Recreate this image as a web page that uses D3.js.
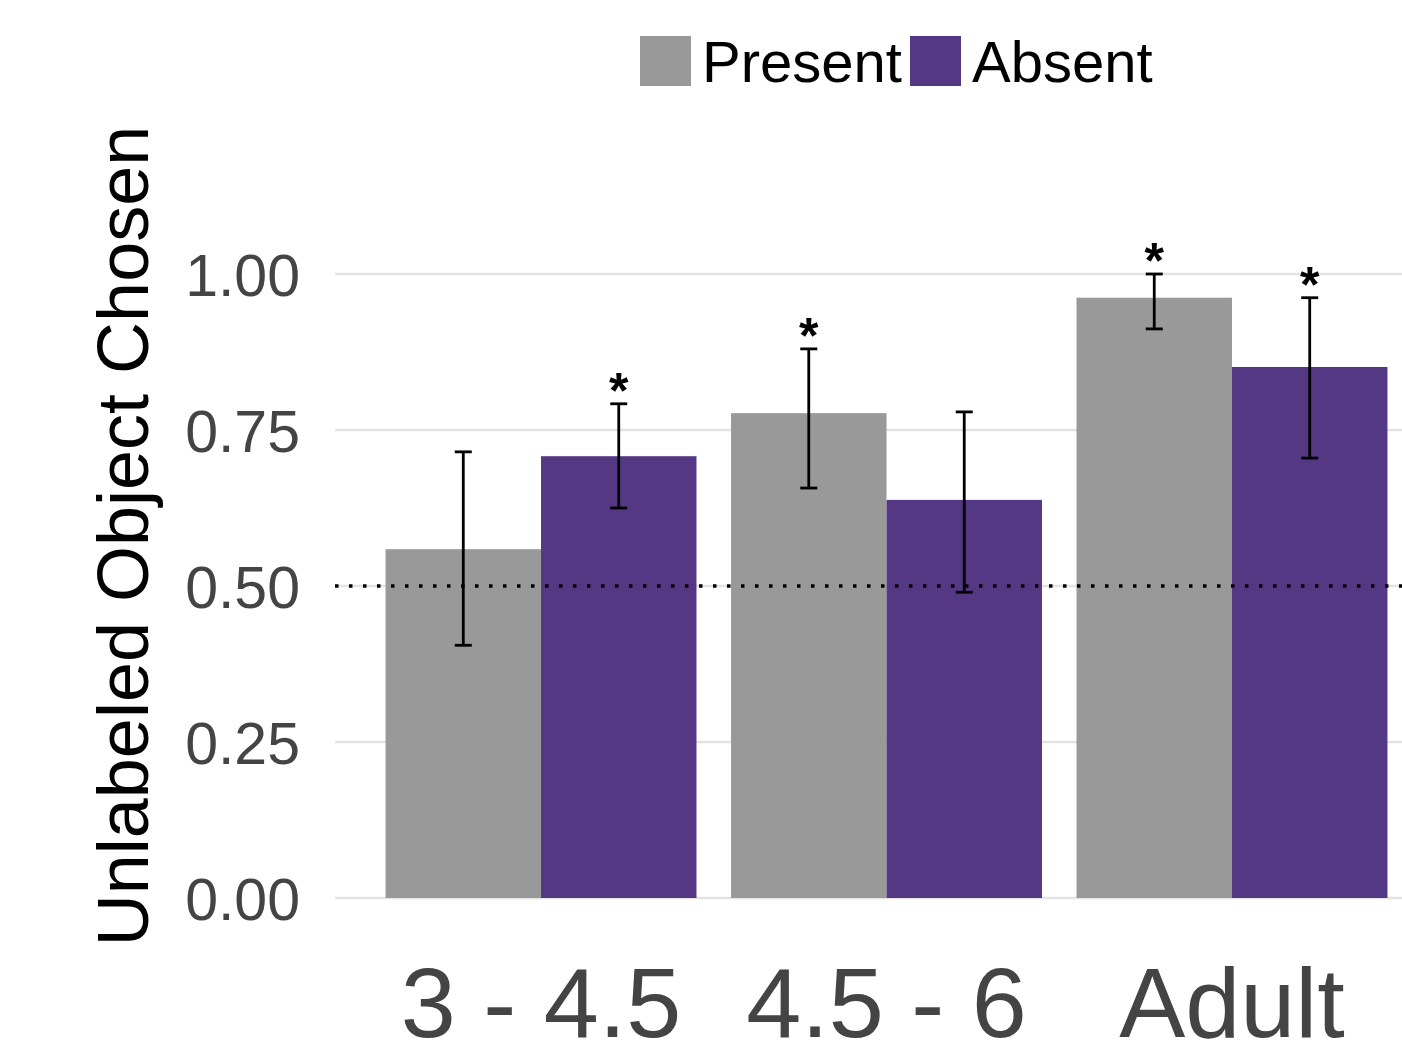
<!DOCTYPE html>
<html lang="en">
<head>
  <meta charset="UTF-8">
  <title>Unlabeled object chosen</title>
  <script src="https://d3js.org/d3.v7.min.js"></script>
  <style>
    body { margin:0; background:#fff; }
    svg { display:block; font-family: 'Liberation Sans', Arial, sans-serif; }
  </style>
</head>
<body>
  <svg width="1402" height="1047"></svg>
  <script>
    // data
    const ages = ['3 - 4.5', '4.5 - 6', 'Adult']
    const conditions = ['Present', 'Absent']
    const means = {
      Present: [0.559, 0.777, 0.962],
      Absent: [0.708, 0.638, 0.851]
    }
    const lower = {
      Present: [0.405, 0.657, 0.912],
      Absent: [0.625, 0.490, 0.705]
    }
    const upper = {
      Present: [0.715, 0.880, 1.000],
      Absent: [0.792, 0.779, 0.962]
    }
    const signif = {
      Present: [false, true, true],
      Absent: [true, false, true]
    }
    const yTicks = [0, 0.25, 0.5, 0.75, 1]
    const colors = {Present: '#999999', Absent: '#543884'}

    const svg = d3.select('svg')
    const panelLeft = 335
    const panelRight = 1402

    const rows = []
    ages.forEach((age, i) => {
      conditions.forEach(c => {
        rows.push({age, cond: c, mean: means[c][i], lo: lower[c][i], hi: upper[c][i], star: signif[c][i]})
      })
    })

    const x = d3.scaleBand().domain(ages).range([351, 1422]).padding(0.1)
    const xSub = d3.scaleBand().domain(conditions).range([0, x.bandwidth()])
    const y = d3.scaleLinear().domain([0, 1]).range([898, 274])

    // gridlines
    svg.append('g').selectAll('line')
      .data(yTicks)
      .enter()
      .append('line')
      .attr('x1', panelLeft)
      .attr('x2', panelRight)
      .attr('y1', d => y(d))
      .attr('y2', d => y(d))
      .attr('stroke', '#e3e3e3')
      .attr('stroke-width', 2.5)

    // y axis labels
    const yAxis = d3.axisLeft(y)
      .tickValues(yTicks)
      .tickFormat(d3.format('.2f'))
      .tickSize(0)
      .tickPadding(0)
    const gy = svg.append('g')
      .attr('transform', 'translate(' + [300, 0] + ')')
      .call(yAxis)
    gy.select('.domain').remove()
    gy.selectAll('text')
      .attr('font-size', 59)
      .attr('font-family', "'Liberation Sans', Arial, sans-serif")
      .attr('fill', '#444444')
      .attr('dy', '0.36em')

    // bars
    svg.append('g').selectAll('rect')
      .data(rows)
      .enter()
      .append('rect')
      .attr('x', d => x(d.age) + xSub(d.cond))
      .attr('width', xSub.bandwidth())
      .attr('y', d => y(d.mean))
      .attr('height', d => y(0) - y(d.mean))
      .attr('fill', d => colors[d.cond])

    // chance line
    svg.append('line')
      .attr('x1', panelLeft)
      .attr('x2', panelRight)
      .attr('y1', y(0.5))
      .attr('y2', y(0.5))
      .attr('stroke', '#000')
      .attr('stroke-width', 3.5)
      .attr('stroke-dasharray', '3.5,10.5')

    // error bars
    const cx = d => x(d.age) + xSub(d.cond) + xSub.bandwidth() / 2
    const eb = svg.append('g').attr('stroke', '#000').attr('stroke-width', 2.8)
    eb.selectAll('line.v').data(rows).enter().append('line')
      .attr('x1', cx).attr('x2', cx)
      .attr('y1', d => y(d.lo)).attr('y2', d => y(d.hi))
    eb.selectAll('line.t').data(rows).enter().append('line')
      .attr('x1', d => cx(d) - 8.5).attr('x2', d => cx(d) + 8.5)
      .attr('y1', d => y(d.hi)).attr('y2', d => y(d.hi))
    eb.selectAll('line.b').data(rows).enter().append('line')
      .attr('x1', d => cx(d) - 8.5).attr('x2', d => cx(d) + 8.5)
      .attr('y1', d => y(d.lo)).attr('y2', d => y(d.lo))

    // significance stars
    svg.append('g').selectAll('text')
      .data(rows.filter(d => d.star))
      .enter()
      .append('text')
      .attr('x', cx)
      .attr('y', d => y(d.hi) + 4)
      .attr('text-anchor', 'middle')
      .attr('font-size', 50)
      .attr('font-weight', 'bold')
      .attr('fill', '#000')
      .text('*')

    // x labels
    const xAxis = d3.axisBottom(x).tickSize(0).tickPadding(0)
    const gx = svg.append('g')
      .attr('transform', 'translate(' + [0, 1037] + ')')
      .call(xAxis)
    gx.select('.domain').remove()
    gx.selectAll('text')
      .attr('font-size', 99)
      .attr('font-family', "'Liberation Sans', Arial, sans-serif")
      .attr('fill', '#444444')
      .attr('dy', 0)
      .attr('y', 0)

    // y title
    svg.append('text')
      .attr('transform', 'translate(148,536) rotate(-90)')
      .attr('text-anchor', 'middle')
      .attr('font-size', 72)
      .attr('fill', '#000')
      .text('Unlabeled Object Chosen')

    // legend
    const legendX = [640, 910]
    const leg = svg.append('g')
    conditions.forEach((c, i) => {
      leg.append('rect')
        .attr('x', legendX[i]).attr('y', 36)
        .attr('width', 51).attr('height', 50)
        .attr('fill', colors[c])
      leg.append('text')
        .attr('x', legendX[i] + 62).attr('y', 82)
        .attr('font-size', 58)
        .attr('fill', '#000')
        .text(c)
    })
  </script>
</body>
</html>
